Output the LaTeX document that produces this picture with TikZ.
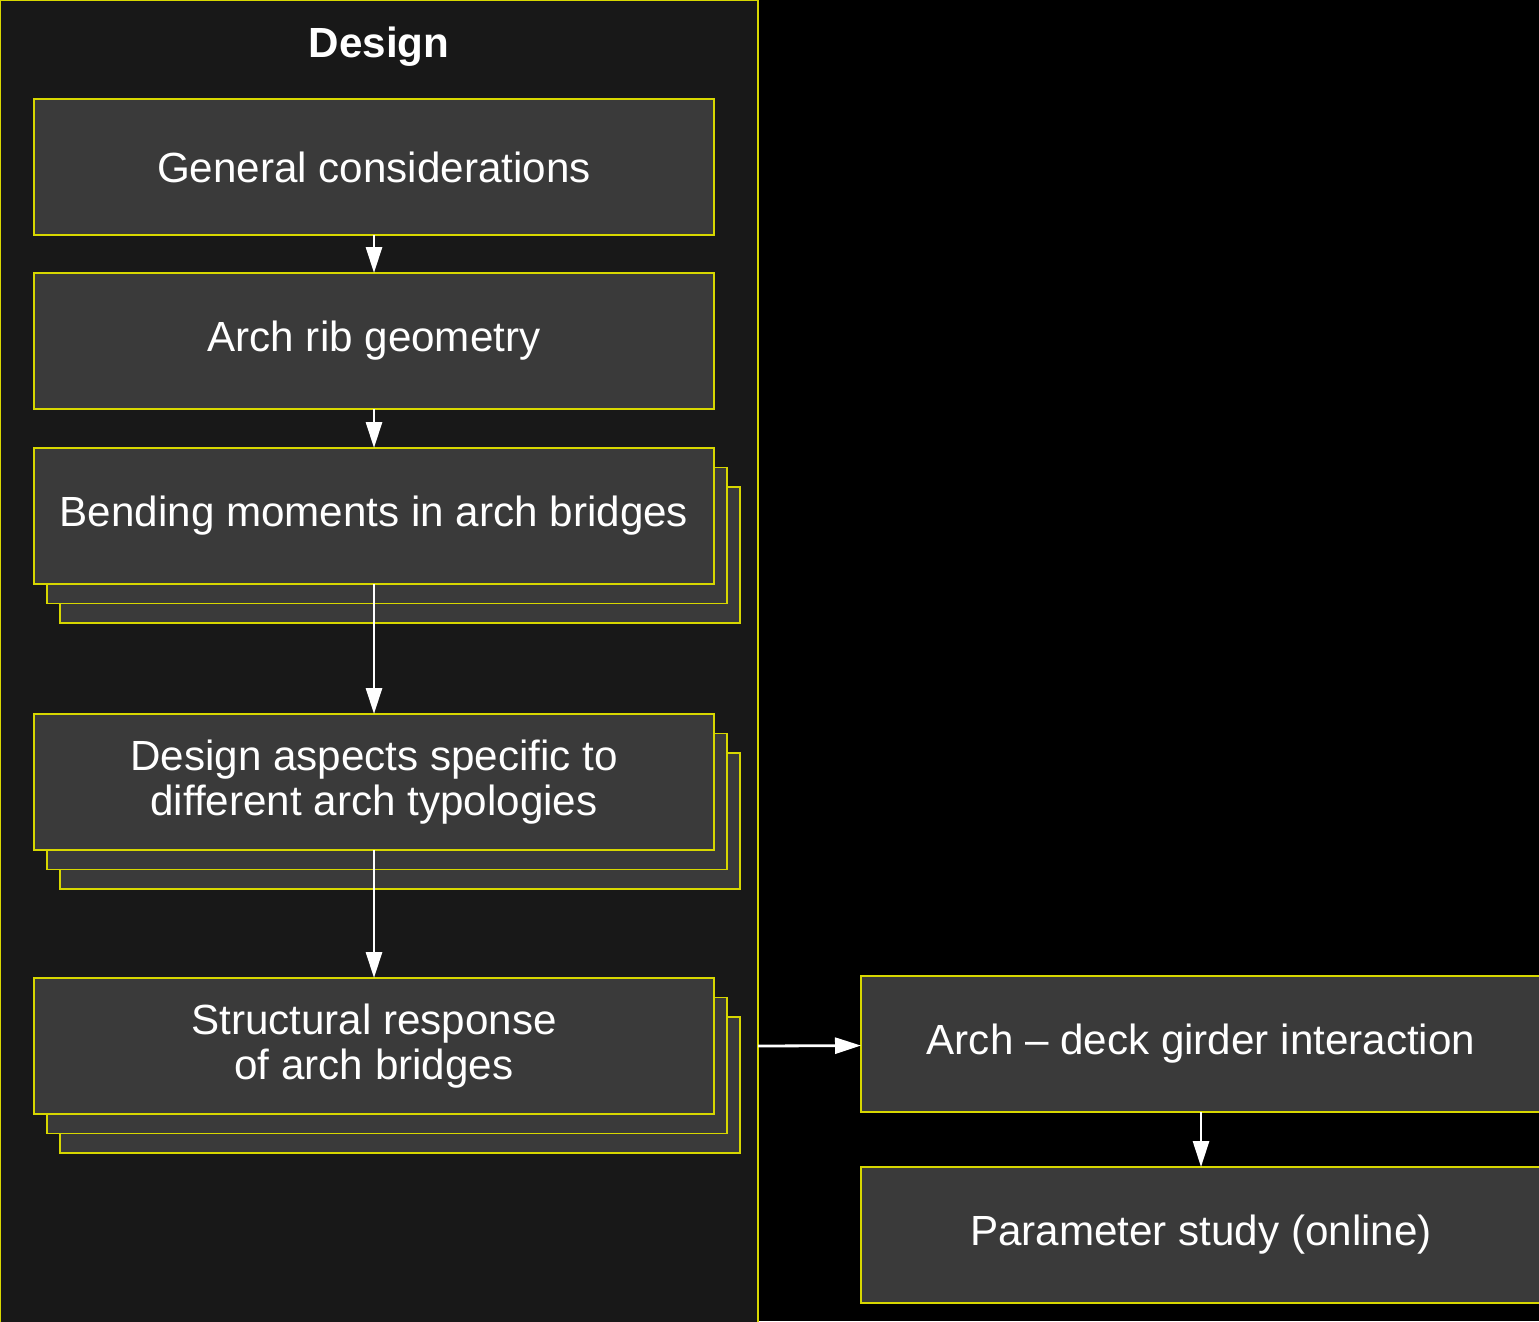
\documentclass[tikz,border=0pt]{standalone}
\usepackage{fontspec}
\setmainfont{Liberation Sans}
\usetikzlibrary{positioning,arrows.meta,shadows}
\definecolor{edgeyellow}{RGB}{215,215,0}
\definecolor{boxgrey}{RGB}{58,58,58}
\definecolor{panelgrey}{RGB}{24,24,24}
\tikzset{
  stage/.style={draw=edgeyellow, fill=boxgrey, line width=0.5pt, minimum width=6.8cm, minimum height=1.36cm,
    inner sep=0pt, outer sep=0pt, text=white, align=center, font=\fontsize{12}{13}\selectfont},
  stack/.style={double copy shadow={shadow xshift=0.13cm, shadow yshift=-0.195cm, draw=edgeyellow, fill=boxgrey}},
  panel/.style={draw=edgeyellow, fill=panelgrey, line width=0.5pt, minimum width=7.58cm, minimum height=13.6cm, inner sep=0pt, outer sep=0pt},
  flow/.style={-{Triangle[length=0.26cm, width=0.16cm]}, white, line width=0.8pt}
}
\begin{document}
\begin{tikzpicture}
  % Background
  \fill[black] (0,0) rectangle (15.39,-13.21);
  \useasboundingbox (0,0) rectangle (15.39,-13.21);

  % Design panel
  \node[panel, anchor=north west] (design) at (0,0) {};
  \node[text=white, font=\fontsize{12}{13}\selectfont\bfseries] (title) at (3.79,-0.47) {Design};

  % Nodes
  \node[stage, anchor=north west] (general) at (0.34,-0.99) {General considerations};
  \node[stage, below=0.38cm of general] (archrib) {Arch rib geometry};
  \node[stage, stack, below=0.39cm of archrib] (bending) {Bending moments in arch bridges};
  \node[stage, stack, below=1.3cm of bending] (aspects) {Design aspects specific to\\different arch typologies};
  \node[stage, stack, below=1.28cm of aspects] (response) {Structural response\\of arch bridges};
  \node[stage, anchor=north west] (interaction) at (8.61,-9.76) {Arch -- deck girder interaction};
  \node[stage, below=0.55cm of interaction] (parameter) {Parameter study (online)};

  % Edges
  \draw[flow] (general) -- (archrib);
  \draw[flow] (archrib) -- (bending);
  \draw[flow] (bending) -- (aspects);
  \draw[flow] (aspects) -- (response);
  \draw[flow] (design.east |- response) -- (interaction);
  \draw[flow] (interaction) -- (parameter);
\end{tikzpicture}
\end{document}
